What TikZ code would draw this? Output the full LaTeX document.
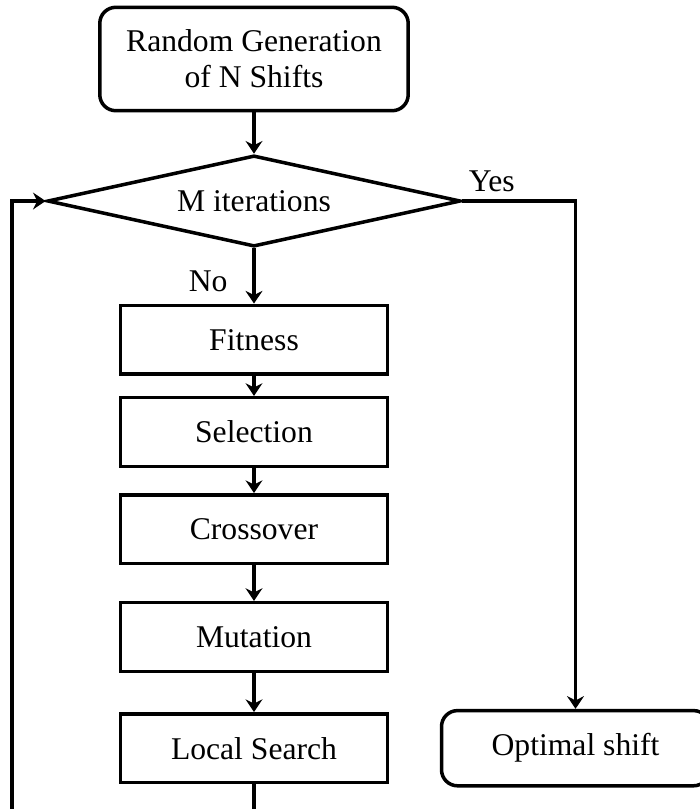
\documentclass[tikz,border=0pt]{standalone}
\usepackage{fontspec}
\setmainfont{Liberation Serif}
\usetikzlibrary{arrows.meta,positioning,shapes.geometric}

\begin{document}
\begin{tikzpicture}[
    every node/.style={font=\fontsize{22.5}{25.6}\selectfont},
    procbox/.style={rectangle, draw, line width=2.5pt, minimum width=6.68cm,
        minimum height=1.72cm, inner sep=2pt},
    termbox/.style={rectangle, draw, line width=2.5pt, rounded corners=0.4cm,
        align=center, inner sep=2pt},
    decbox/.style={diamond, draw, line width=2.5pt, aspect=4.6, minimum width=10.33cm,
        minimum height=2.28cm, inner sep=0pt},
    flow/.style={line width=2.5pt, -{Stealth[length=9pt, width=12pt, inset=3pt]}},
]

% page frame (the figure is cut at the right and bottom)
\path[use as bounding box, clip] (0,0) rectangle (17.5,-20.225);

% ===== MAIN COLUMN =====
\node[termbox, minimum width=7.71cm, minimum height=2.585cm] (init) at (6.35,-1.475)
    {Random Generation\\of N Shifts};
\node[decbox, below=1.03cm of init] (iter) {M iterations};

% GA steps
\node[procbox, below=1.38cm of iter] (fit) {Fitness};
\node[procbox, below=0.5cm of fit] (sel) {Selection};
\node[procbox, below=0.62cm of sel] (cross) {Crossover};
\node[procbox, below=0.89cm of cross] (mut) {Mutation};
\node[procbox, below=0.97cm of mut] (ls) {Local Search};

% ===== RIGHT: result =====
\node[termbox, right=1.26cm of ls, minimum width=6.7cm, minimum height=1.88cm] (opt)
    {Optimal shift};

% loop corner below the page
\coordinate (back) at (0.3,-21);

% ===== Connectors =====
\draw[flow] (init) -- (iter);
\draw[flow] (iter.south) -- node[pos=0.6, left=0.5cm] {No} (fit.north);
\draw[flow] (fit) -- (sel);
\draw[flow] (sel) -- (cross);
\draw[flow] (cross) -- (mut);
\draw[flow] (mut) -- (ls);
\draw[flow] (iter.east) -| node[pos=0.13, above=2pt] {Yes} (opt.north);
\draw[flow] (ls.south) |- (back) |- (iter.west);

\end{tikzpicture}
\end{document}
